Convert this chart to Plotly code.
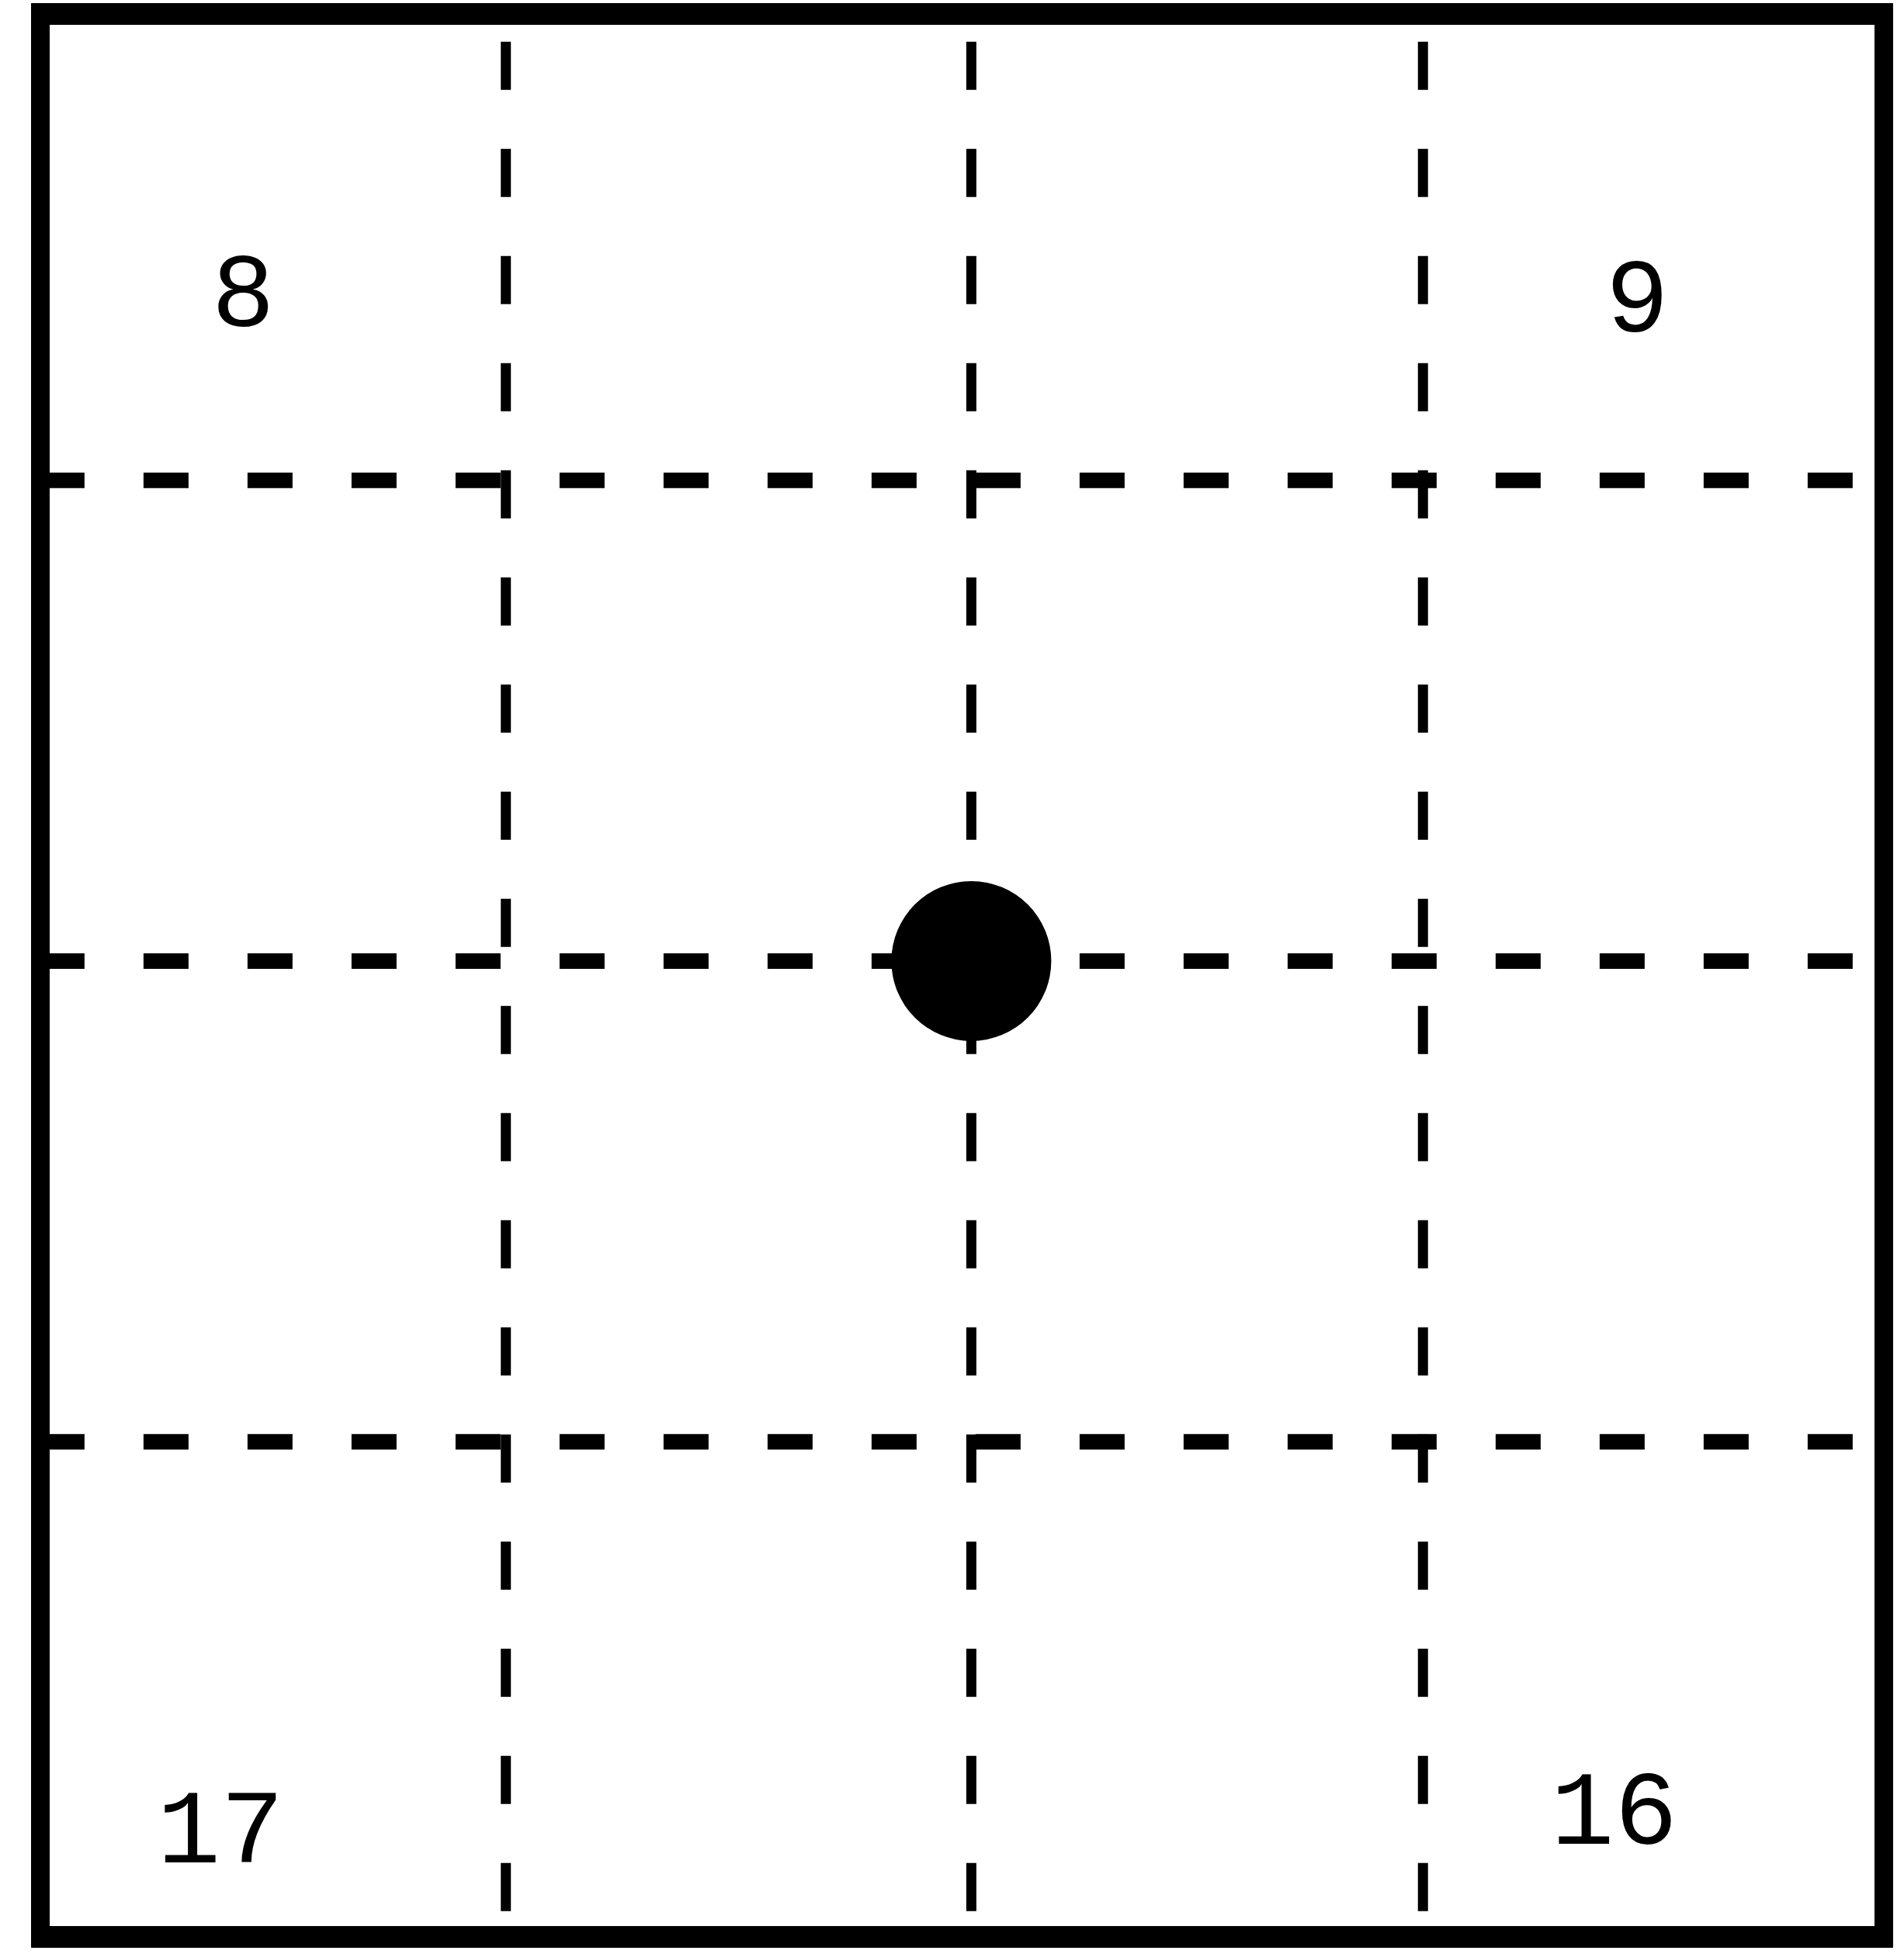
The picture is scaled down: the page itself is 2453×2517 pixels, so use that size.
import plotly.graph_objects as go

# ---- data (grid units: frame spans 0..4 in x and y, y upward) ----
grid_x = [1.01, 2.02, 3.00]          # vertical dashed lines
grid_y = [1.03, 2.03, 3.03]          # horizontal dashed lines
point_x = [2.02]
point_y = [2.03]
label_text = ["8", "9", "17", "16"]
label_x = [0.44, 3.465, 0.391, 3.415]
label_y = [3.405, 3.395, 0.21, 0.248]
frame_min, frame_max = 0, 4

# ---- figure geometry ----
W, H = 2453, 2517
x_range = [-0.0876, 4.0438]
y_range = [-0.0355, 4.029]

fig = go.Figure()

# dashed horizontal lines
for gy in grid_y:
    fig.add_trace(go.Scatter(
        x=[x_range[0] - 0.14, x_range[1] + 0.2], y=[gy, gy], mode="lines",
        line=dict(color="black", width=20, dash="58px,76px"),
        hoverinfo="skip"))
# dashed vertical lines
for gx in grid_x:
    fig.add_trace(go.Scatter(
        x=[gx, gx], y=[y_range[1] + 0.136, y_range[0] - 0.2], mode="lines",
        line=dict(color="black", width=13, dash="62px,76px"),
        hoverinfo="skip"))

# central dot
fig.add_trace(go.Scatter(
    x=point_x, y=point_y, mode="markers",
    marker=dict(size=206, color="black", line=dict(width=0)),
    hoverinfo="skip"))

# corner labels
fig.add_trace(go.Scatter(
    x=label_x, y=label_y, mode="text", text=label_text,
    textposition="middle center",
    textfont=dict(family="Liberation Mono", size=136, color="black"),
    hoverinfo="skip"))

# frame
fig.add_shape(type="line", x0=frame_min - 0.02, x1=frame_max + 0.02, y0=frame_max, y1=frame_max,
              xref="x", yref="y", line=dict(color="black", width=28))
fig.add_shape(type="line", x0=frame_min - 0.02, x1=frame_max + 0.02, y0=frame_min, y1=frame_min,
              xref="x", yref="y", line=dict(color="black", width=28))
fig.add_shape(type="line", x0=frame_min, x1=frame_min, y0=frame_min - 0.02, y1=frame_max + 0.02,
              xref="x", yref="y", line=dict(color="black", width=24))
fig.add_shape(type="line", x0=frame_max, x1=frame_max, y0=frame_min - 0.02, y1=frame_max + 0.02,
              xref="x", yref="y", line=dict(color="black", width=24))

fig.update_layout(
    width=W, height=H,
    margin=dict(l=0, r=0, t=0, b=0, pad=0),
    paper_bgcolor="white", plot_bgcolor="white",
    showlegend=False,
    xaxis=dict(range=x_range, visible=False, fixedrange=True),
    yaxis=dict(range=y_range, visible=False, fixedrange=True),
)

fig.write_html("out.html", config={"displayModeBar": False},
               post_script="document.body.style.margin='0';document.body.style.overflow='hidden';")
